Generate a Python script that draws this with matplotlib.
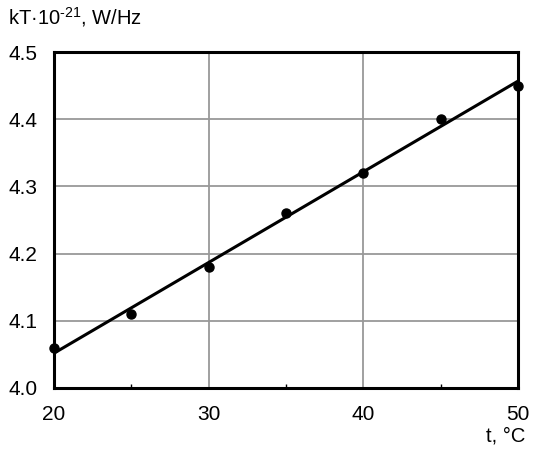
import numpy as np
import matplotlib
matplotlib.use("Agg")
import matplotlib.pyplot as plt

plt.rcParams['font.family'] = ['Liberation Sans', 'DejaVu Sans']
plt.rcParams['mathtext.fontset'] = 'custom'
plt.rcParams['mathtext.rm'] = 'Liberation Sans'
plt.rcParams['mathtext.it'] = 'Liberation Sans'

t_vals = [20, 25, 30, 35, 40, 45, 50]
kT_vals = [4.06, 4.11, 4.18, 4.26, 4.32, 4.40, 4.45]
x_ticks = [20, 30, 40, 50]
y_ticks = [4.0, 4.1, 4.2, 4.3, 4.4, 4.5]

fig = plt.figure(figsize=(5.33, 4.5), dpi=100)
ax = fig.add_axes([0.1013, 0.1378, 0.8707, 0.7466])

coef = np.polyfit(t_vals, kT_vals, 1)
xf = np.array([20, 50])
ax.plot(xf, np.polyval(coef, xf), color='black', lw=2.2, zorder=3)
ax.plot(t_vals, kT_vals, 'o', color='black', ms=6.5, zorder=4, clip_on=False)

ax.set_xlim(20, 50)
ax.set_ylim(4.0, 4.5)
ax.set_xticks(x_ticks)
ax.set_yticks(y_ticks)
ax.set_xticklabels([str(v) for v in x_ticks])
ax.set_yticklabels([f"{v:.1f}" for v in y_ticks])
ax.set_xticks([25, 35, 45], minor=True)
ax.grid(True, which='major', color='#999999', lw=1.3)
ax.tick_params(axis='both', which='major', length=0, labelsize=15)
ax.tick_params(axis='x', which='major', pad=12)
ax.tick_params(axis='y', which='major', pad=12)
ax.tick_params(axis='x', which='minor', direction='in', length=3, width=1)
for s in ax.spines.values():
    s.set_linewidth(2.2)

fig.text(0.015, 0.935, "kT\u00b710$^{\u2010 21}$, W/Hz".replace("\u2010 ", "\u2010"),
         fontsize=14.5, ha='left', va='bottom')
fig.text(0.985, 0.01, "t, °C", fontsize=14.5, ha='right', va='bottom')

fig.savefig("out.png", dpi=100)
